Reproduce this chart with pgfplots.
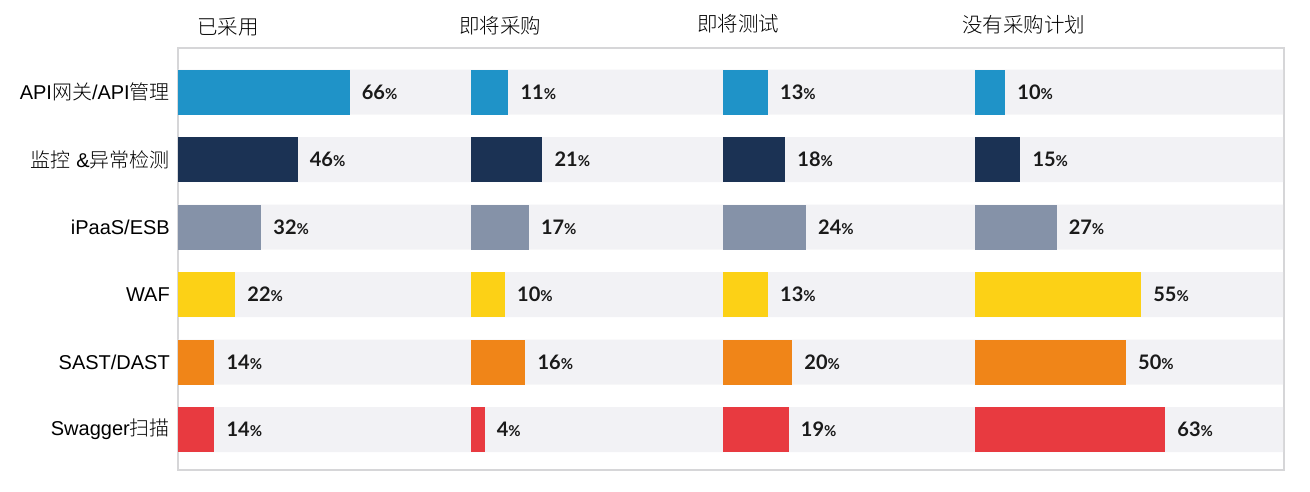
\documentclass[border=0pt]{standalone}
\usepackage{fontspec}
\usepackage{pgfplots}
\pgfplotsset{compat=1.18}
\setmainfont{Liberation Sans}
\newfontfamily\cjk{Noto Sans CJK SC Light}
\newfontfamily\lato{Lato}
\definecolor{c1}{HTML}{1F93C8}
\definecolor{c2}{HTML}{1B3254}
\definecolor{c3}{HTML}{8592A8}
\definecolor{c4}{HTML}{FCD116}
\definecolor{c5}{HTML}{F08518}
\definecolor{c6}{HTML}{E83A40}
\definecolor{band}{RGB}{242,242,245}
\definecolor{frame}{RGB}{214,214,216}
\definecolor{txt}{HTML}{1A1A1A}
\pgfplotsset{
  common/.style={anchor=south west, scale only axis, height=422pt,
    ymin=0.348, ymax=6.6, y dir=reverse, clip=false},
  panel/.style={common, xmin=0, xmax=100, hide axis,
    every axis plot/.append style={xbar, bar width=45pt, bar shift=0pt, draw=none,
      point meta=x, nodes near coords={\pgfmathprintnumber[assume math mode=true]{\pgfplotspointmeta}{\fontsize{15}{15}\selectfont\%}},
      nodes near coords align={horizontal},
      every node near coord/.append style={anchor=west, inner sep=0pt, xshift=12pt,
        font=\lato\bfseries\fontsize{20}{20}\selectfont, text=txt}}}
}
\newcommand\panel[8]{%
\begin{axis}[panel, at={(#1pt,-470pt)}, width=#2pt]
\addplot[fill=c1] coordinates {(#3,1)};
\addplot[fill=c2] coordinates {(#4,2)};
\addplot[fill=c3] coordinates {(#5,3)};
\addplot[fill=c4] coordinates {(#6,4)};
\addplot[fill=c5] coordinates {(#7,5)};
\addplot[fill=c6] coordinates {(#8,6)};
\end{axis}}
\begin{document}
\begin{tikzpicture}
\path (0pt,0pt) rectangle (1310pt,-491pt);
\begin{axis}[common, at={(178pt,-470pt)}, width=1106pt,
  xmin=0, xmax=1106, axis line style={draw=frame, line width=1.3pt},
  xtick=\empty, ytick={1,...,6}, major tick length=0pt,
  yticklabels={{API{\cjk 网关}/API{\cjk 管理}},{{\cjk 监控} \&{\cjk 异常检测}},{iPaaS/ESB},{WAF},{SAST/DAST},{Swagger{\cjk 扫描}}},
  yticklabel style={font=\fontsize{20}{20}\selectfont, inner sep=0pt, xshift=-8pt, text=black}]
\addplot[xbar, bar width=45pt, bar shift=0pt, draw=none, fill=band] coordinates {(1105,1) (1105,2) (1105,3) (1105,4) (1105,5) (1105,6)};
\end{axis}
\panel{178}{260}{66}{46}{32}{22}{14}{14}
\panel{471}{340}{11}{21}{17}{10}{16}{4}
\panel{723}{346}{13}{18}{24}{13}{20}{19}
\panel{975}{302}{10}{15}{27}{55}{50}{63}
\node[anchor=west, inner sep=0pt, font=\cjk\fontsize{20.5}{20.5}\selectfont] at (197pt,-27pt) {已采用};
\node[anchor=west, inner sep=0pt, font=\cjk\fontsize{20.5}{20.5}\selectfont] at (459pt,-26pt) {即将采购};
\node[anchor=west, inner sep=0pt, font=\cjk\fontsize{20.5}{20.5}\selectfont] at (697pt,-24pt) {即将测试};
\node[anchor=west, inner sep=0pt, font=\cjk\fontsize{20.5}{20.5}\selectfont] at (962pt,-25pt) {没有采购计划};
\end{tikzpicture}
\end{document}
